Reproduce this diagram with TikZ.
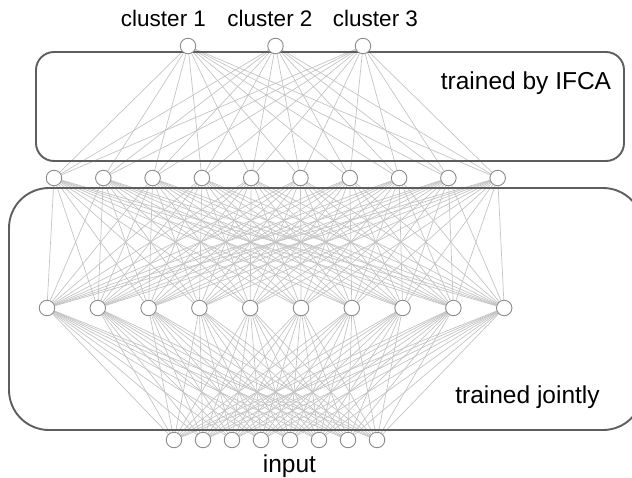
\documentclass[tikz,border=0pt]{standalone}
\usepackage{fontspec}
\setmainfont{Liberation Sans}
\usetikzlibrary{backgrounds}
\definecolor{edgegray}{HTML}{C4C4C4}
\definecolor{boxgray}{HTML}{5E5E5E}
\definecolor{nodegray}{HTML}{8C8C8C}
\tikzset{
  neuron/.style={circle, draw=nodegray, fill=white, line width=0.9pt, minimum size=15.5pt, inner sep=0pt},
  conn/.style={draw=edgegray, line width=0.7pt},
  region/.style={draw=boxgray, line width=1.9pt},
  biglabel/.style={font=\fontsize{24.5}{28}\selectfont, anchor=base, inner sep=0pt},
  clusterlabel/.style={font=\fontsize{22.5}{26}\selectfont, anchor=base, inner sep=0pt}
}
\begin{document}
\begin{tikzpicture}[x=1pt,y=-1pt]
\useasboundingbox (0,0) rectangle (632,477);
% region boxes
\draw[region, rounded corners=18pt] (36,52) rectangle (624,161);
\draw[region, rounded corners=40pt] (9,188) rectangle (643,430);
% nodes
\foreach \i/\x in {1/188,2/275.5,3/363}
  \node[neuron] (c\i) at (\x,46) {};
\foreach \i in {1,...,10}
  \node[neuron] (h\i) at ({54+49.3*(\i-1)},178) {};
\foreach \i in {1,...,10}
  \node[neuron] (g\i) at ({47+50.8*(\i-1)},308) {};
\foreach \i in {1,...,8}
  \node[neuron] (x\i) at ({174+29*(\i-1)},440) {};
% connections
\begin{pgfonlayer}{background}
\foreach \a in {1,2,3}
  \foreach \b in {1,...,10}
    \draw[conn] (c\a) -- (h\b);
\foreach \a in {1,...,10}
  \foreach \b in {1,...,10}
    \draw[conn] (h\a) -- (g\b);
\foreach \a in {1,...,10}
  \foreach \b in {1,...,8}
    \draw[conn] (g\a) -- (x\b);
\end{pgfonlayer}
% labels
\node[clusterlabel] (l1) at (163.5,26) {cluster 1};
\node[clusterlabel] (l2) at (270,26) {cluster 2};
\node[clusterlabel] (l3) at (375.5,26) {cluster 3};
\node[biglabel] (tifca) at (526,89) {trained by IFCA};
\node[biglabel] (tjoint) at (527.5,403) {trained jointly};
\node[biglabel] (tin) at (289.5,472) {input};
\end{tikzpicture}
\end{document}
